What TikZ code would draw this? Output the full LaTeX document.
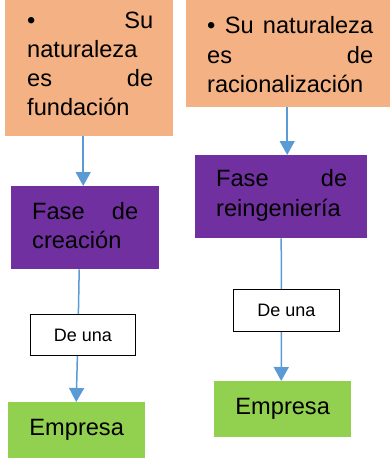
\documentclass[tikz,border=0pt]{standalone}
\usepackage{fontspec}
\setmainfont{Liberation Sans}
\usetikzlibrary{arrows.meta}
\definecolor{orng}{HTML}{F4B183}
\definecolor{purp}{HTML}{7030A0}
\definecolor{grn}{HTML}{92D050}
\definecolor{arr}{HTML}{5B9BD5}
\begin{document}
\begin{tikzpicture}[x=1pt,y=-1pt,
  box/.style={draw=none, inner sep=0pt, anchor=north west},
  txt/.style={inner sep=0pt, anchor=north west, align=left, font=\fontsize{23.6}{29.2}\selectfont},
  grnbox/.style={box, fill=grn, minimum width=137pt, minimum height=56pt, font=\fontsize{23.6}{29.2}\selectfont},
  unabox/.style={box, draw=black, line width=0.8pt, fill=white, font=\fontsize{18}{22}\selectfont},
  conn/.style={draw=arr, line width=1.5pt},
  connarr/.style={conn, -{Triangle[width=15pt,length=14pt]}}]
\useasboundingbox (0,0) rectangle (390,458);
% boxes
\node[box, fill=orng, minimum width=168pt, minimum height=136pt] (o1) at (5,0) {};
\node[box, fill=orng, minimum width=204pt, minimum height=107pt] (o2) at (186,0) {};
\node[box, fill=purp, minimum width=148pt, minimum height=83pt] (p1) at (11,186) {};
\node[box, fill=purp, minimum width=172pt, minimum height=83pt] (p2) at (195,155) {};
\node[unabox, minimum width=105pt, minimum height=41pt] (d1) at (30,314) {De una};
\node[unabox, minimum width=106pt, minimum height=42pt] (d2) at (233,289) {De una};
\node[grnbox] (g1) at (8,402) {Empresa};
\node[grnbox] (g2) at (214,381) {Empresa};
% texts
\node[txt] (t1) at (27,11.5) {\hbox to 126pt{\textbullet\hfill Su}\\naturaleza\\\hbox to 126pt{es\hfill de}\\fundación};
\node[txt] (t2) at (207,16.5) {\hbox to 166pt{\textbullet{} Su naturaleza}\\\hbox to 166pt{es\hfill de}\\racionalización};
\node[txt] (t3) at (32,202) {\hbox to 106pt{Fase\hfill de}\\creación};
\node[txt] (t4) at (216,169.5) {\hbox to 131pt{Fase\hfill de}\\reingeniería};
% connectors
\draw[connarr] ([xshift=-6pt]o1.south) -- ([xshift=-2pt]p1.north);
\draw[conn] ([xshift=-6pt]p1.south) -- ([xshift=-4.5pt]d1.north);
\draw[connarr] ([xshift=-5.5pt]d1.south) -- ([xshift=-0.5pt]g1.north);
\draw[connarr] ([xshift=-1pt]o2.south) -- ([xshift=6pt]p2.north);
\draw[conn] (p2.south) -- ([xshift=-5pt]d2.north);
\draw[connarr] ([xshift=-5pt]d2.south) -- ([xshift=-1.5pt]g2.north);
\end{tikzpicture}
\end{document}
